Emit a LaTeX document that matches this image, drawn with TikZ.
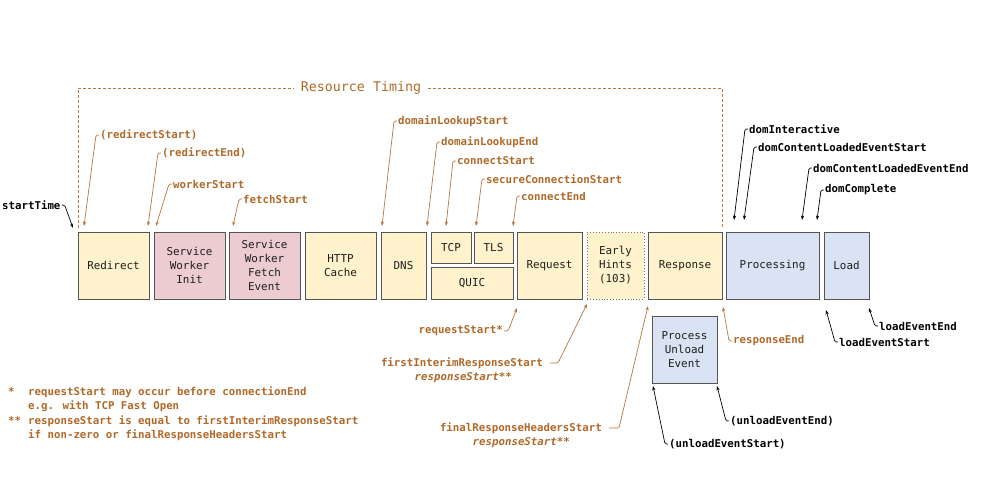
\documentclass[tikz,border=0pt]{standalone}
\usepackage{fontspec}
\setmainfont{DejaVu Sans Mono}
\setmonofont{DejaVu Sans Mono}
\usetikzlibrary{arrows.meta}
\definecolor{org}{RGB}{176,104,40}
\definecolor{oline}{RGB}{186,116,60}
\definecolor{yfill}{RGB}{255,242,204}
\definecolor{pfill}{RGB}{236,204,208}
\definecolor{bfill}{RGB}{218,227,243}
\definecolor{bord}{RGB}{85,85,85}
\definecolor{txt}{RGB}{30,30,30}
\tikzset{
  box/.style={draw=bord, line width=0.9pt, inner sep=1pt, align=center, text=txt,
    font=\fontsize{10.9}{14}\selectfont},
  yb/.style={box, fill=yfill},
  pb/.style={box, fill=pfill},
  bb/.style={box, fill=bfill},
  lbl/.style={inner sep=1pt, font=\bfseries\fontsize{10.75}{14.4}\selectfont},
  olbl/.style={lbl, text=org},
  klbl/.style={lbl, text=black},
  oarr/.style={draw=oline, line width=0.7pt, rounded corners=1.5pt, -{Stealth[length=4.5pt,width=3.2pt]}},
  karr/.style={draw=black, line width=0.7pt, rounded corners=1.5pt, -{Stealth[length=4.5pt,width=3.2pt]}},
}
\begin{document}
\begin{tikzpicture}[x=1pt,y=-1pt]
\useasboundingbox (0,0) rectangle (1000,500);
% boxes
\node[yb, minimum width=71, minimum height=67] (redirect) at (113.5,265.5) {Redirect};
\node[pb, minimum width=71, minimum height=67] (swinit) at (189.5,265.5) {Service\\Worker\\Init};
\node[pb, minimum width=71, minimum height=67] (swfetch) at (264.5,265.5) {Service\\Worker\\Fetch\\Event};
\node[yb, minimum width=71, minimum height=67] (http) at (340.5,265.5) {HTTP\\Cache};
\node[yb, minimum width=45, minimum height=67] (dns) at (403.5,265.5) {DNS};
\node[yb, minimum width=40, minimum height=31] (tcp) at (451,247.5) {TCP};
\node[yb, minimum width=39, minimum height=31] (tls) at (493.5,247.5) {TLS};
\node[yb, minimum width=82, minimum height=32] (quic) at (472,283) {QUIC};
\node[yb, minimum width=65, minimum height=67] (request) at (549.5,265.5) {Request};
\node[box, fill=yfill, draw=bord!80, dotted, minimum width=57, minimum height=67] (early) at (615.5,265.5) {Early\\Hints\\(103)};
\node[yb, minimum width=74, minimum height=67] (response) at (685,265.5) {Response};
\node[bb, minimum width=93, minimum height=67] (processing) at (772.5,265.5) {Processing};
\node[bb, minimum width=45, minimum height=67] (load) at (846.5,265.5) {Load};
\node[bb, minimum width=65, minimum height=67] (unload) at (684.5,349.5) {Process\\Unload\\Event};

% Resource timing bracket
\node[text=org, inner sep=7pt, font=\fontsize{13.3}{15}\selectfont] (rt) at (361,88) {Resource Timing};
\coordinate (bl) at (78,228);
\coordinate (br) at (722,228);
\draw[oline, line width=0.8pt, dash pattern=on 3pt off 2pt] (bl) -- (78,88) -- (rt.west);
\draw[oline, line width=0.8pt, dash pattern=on 3pt off 2pt] (rt.east) -- (722,88) -- (br);

% tip coordinates
\coordinate (t-st) at (73,228);
\coordinate (t-rs) at (84,226);
\coordinate (t-re) at (148,226);
\coordinate (t-ws) at (156,226);
\coordinate (t-fs) at (233,226);
\coordinate (t-dls) at (382,226);
\coordinate (t-dle) at (427,226);
\coordinate (t-cs) at (446,226);
\coordinate (t-scs) at (476,226);
\coordinate (t-ce) at (513,226);
\coordinate (t-di) at (734,220);
\coordinate (t-dcls) at (744,220);
\coordinate (t-dcle) at (802,220);
\coordinate (t-dc) at (817,220);
\coordinate (t-lee) at (869,308);
\coordinate (t-les) at (826,310);
\coordinate (t-rend) at (723,307);
\coordinate (t-rqs) at (517,308);
\coordinate (t-fir) at (587,304);
\coordinate (t-frh) at (648,306);
\coordinate (t-ues) at (653,386);
\coordinate (t-uee) at (717,386);

% labels above
\node[klbl, anchor=west] (st) at (1,205) {startTime};
\node[olbl, anchor=west] (rs) at (99,135) {(redirectStart)};
\node[olbl, anchor=west] (re) at (161,153) {(redirectEnd)};
\node[olbl, anchor=west] (ws) at (172,184) {workerStart};
\node[olbl, anchor=west] (fs) at (242,199) {fetchStart};
\node[olbl, anchor=west] (dls) at (397,121) {domainLookupStart};
\node[olbl, anchor=west] (dle) at (440,142) {domainLookupEnd};
\node[olbl, anchor=west] (cs) at (456,161) {connectStart};
\node[olbl, anchor=west] (scs) at (485,179) {secureConnectionStart};
\node[olbl, anchor=west] (ce) at (520,196) {connectEnd};
\node[klbl, anchor=west] (di) at (748,129) {domInteractive};
\node[klbl, anchor=west] (dcls) at (757,147) {domContentLoadedEventStart};
\node[klbl, anchor=west] (dcle) at (812,168) {domContentLoadedEventEnd};
\node[klbl, anchor=west] (dc) at (824,190) {domComplete};

% labels below
\node[klbl, anchor=west] (lee) at (878,326) {loadEventEnd};
\node[klbl, anchor=west] (les) at (838,342) {loadEventStart};
\node[olbl, anchor=west] (rend) at (732,341) {responseEnd};
\node[olbl, anchor=east] (rqs) at (504,331) {requestStart*};
\node[olbl, anchor=east] (fir) at (544,363) {firstInterimResponseStart};
\node[olbl, anchor=east, font=\bfseries\itshape\fontsize{10.75}{14.4}\selectfont] (fir2) at (513,378) {responseStart**};
\node[olbl, anchor=east] (frh) at (603,428) {finalResponseHeadersStart};
\node[olbl, anchor=east, font=\bfseries\itshape\fontsize{10.75}{14.4}\selectfont] (frh2) at (571,443) {responseStart**};
\node[klbl, anchor=west] (ues) at (668,444) {(unloadEventStart)};
\node[klbl, anchor=west] (uee) at (729,421) {(unloadEventEnd)};

% arrows
\draw[karr] (st.east) -- ++(3,0) -- (t-st);
\draw[oarr] (rs.west) -- ++(-3,0) -- (t-rs);
\draw[oarr] (re.west) -- ++(-3,0) -- (t-re);
\draw[oarr] (ws.west) -- ++(-3,0) -- (t-ws);
\draw[oarr] (fs.west) -- ++(-3,0) -- (t-fs);
\draw[oarr] (dls.west) -- ++(-3,0) -- (t-dls);
\draw[oarr] (dle.west) -- ++(-3,0) -- (t-dle);
\draw[oarr] (cs.west) -- ++(-3,0) -- (t-cs);
\draw[oarr] (scs.west) -- ++(-3,0) -- (t-scs);
\draw[oarr] (ce.west) -- ++(-3,0) -- (t-ce);
\draw[karr] (di.west) -- ++(-3,0) -- (t-di);
\draw[karr] (dcls.west) -- ++(-3,0) -- (t-dcls);
\draw[karr] (dcle.west) -- ++(-3,0) -- (t-dcle);
\draw[karr] (dc.west) -- ++(-3,0) -- (t-dc);
\draw[karr] (lee.west) -- ++(-3,0) -- (t-lee);
\draw[karr] (les.west) -- ++(-3,0) -- (t-les);
\draw[oarr] (rend.west) -- ++(-3,0) -- (t-rend);
\draw[oarr] (rqs.east) -- ++(4,0) -- (t-rqs);
\draw[oarr] (fir.east) ++(6,0) -- ++(8,0) -- (t-fir);
\draw[oarr] (frh.east) ++(6,0) -- ++(10,0) -- (t-frh);
\draw[karr] (ues.west) -- ++(-3,0) -- (t-ues);
\draw[karr] (uee.west) -- ++(-3,0) -- (t-uee);

% footnotes
\node[olbl, anchor=west] (fn1s) at (7,392) {*};
\node[olbl, anchor=west] (fn2s) at (7,421) {**};
\node[olbl, anchor=west, align=left] (fn1) at (27,399) {requestStart may occur before connectionEnd\\e.g. with TCP Fast Open};
\node[olbl, anchor=west, align=left] (fn2) at (27,428) {responseStart is equal to firstInterimResponseStart\\if non-zero or finalResponseHeadersStart};
\end{tikzpicture}
\end{document}
